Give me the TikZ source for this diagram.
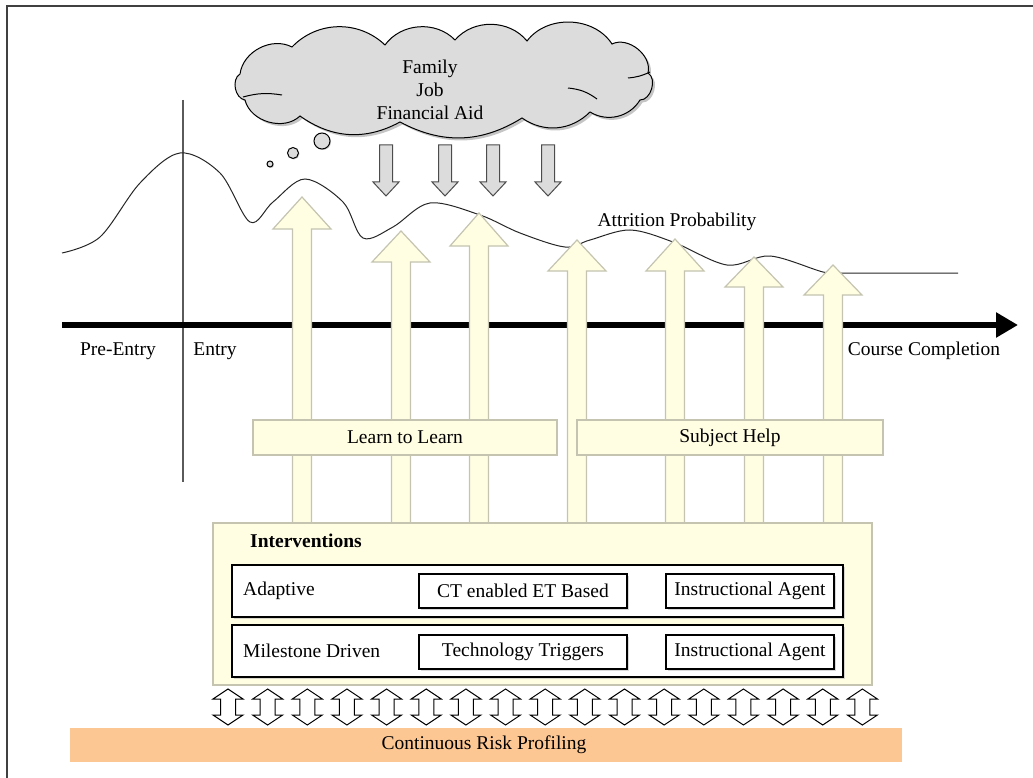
\documentclass[tikz,border=0pt]{standalone}
\usepackage{fontspec}
\setmainfont{Liberation Serif}
\usetikzlibrary{shadows,arrows.meta}
\definecolor{ylw}{HTML}{FFFDE2}
\definecolor{ylwedge}{HTML}{C4C4B0}
\definecolor{cloudgray}{HTML}{DCDCDC}
\definecolor{orangebar}{HTML}{FDC794}
\definecolor{vline}{HTML}{5A5A5A}
\begin{document}
\begin{tikzpicture}[x=1pt,y=-1pt,
  txt/.style={font=\fontsize{19.5}{23}\selectfont, inner sep=0pt},
  upar/.style={fill=ylw, draw=ylwedge, line width=1.2pt, line join=miter},
  downar/.style={fill=cloudgray, draw=black!70, line width=1pt},
  dblar/.style={fill=white, draw=black, line width=1pt},
  bar/.style={fill=ylw, draw=ylwedge, line width=1.2pt, drop shadow={shadow xshift=1pt, shadow yshift=-1pt, fill=black!15}},
  rowbox/.style={fill=white, draw=black, line width=1.2pt, drop shadow={shadow xshift=1.5pt, shadow yshift=-1.5pt, fill=black!30}},
  bubble/.style={fill=cloudgray, draw=black, line width=1pt, drop shadow={shadow xshift=1pt, shadow yshift=-1pt, fill=black!40}},
  cloudstyle/.style={fill=cloudgray, draw=black, line width=1pt, drop shadow={shadow xshift=2.5pt, shadow yshift=-2.5pt, fill=black!45}},
]
\useasboundingbox (0,0) rectangle (1033,778);
% frame
\draw[line width=1.5pt, black!75] (7,778) -- (7,6) -- (1033,6);

% cloud
\path[cloudstyle] (240,74) to[bend left=55] (292,47) to[bend left=45] (385,45)
  to[bend left=50] (455,40) to[bend left=50] (527,41) to[bend left=55] (612,44)
  to[bend left=65] (648,73) to[bend left=75] (640,100) to[bend left=45] (590,112)
  to[bend left=40] (522,118) to[bend left=30] (400,122) to[bend left=32] (300,116)
  to[bend left=60] (245,100) to[bend left=70] cycle;
\draw[line width=1pt] (243,97) to[bend left=12] (282,95);
\draw[line width=1pt] (568,88) to[bend left=15] (597,99);
\draw[line width=1pt] (628,78) to[bend right=10] (650,72);
\node[txt, align=center] (stress) at (430,90) {Family\\Job\\Financial Aid};
% thought bubbles
\draw[bubble] (322,141) circle (8);
\draw[bubble] (293,153) circle (5.5);
\draw[bubble] (270,164) circle (3);

% gray down arrows
\foreach \cx in {386,445,493,548}{
  \draw[downar] (\cx-6.5,145) -- (\cx+6.5,145) -- (\cx+6.5,182) -- (\cx+13,182)
     -- (\cx,196) -- (\cx-13,182) -- (\cx-6.5,182) -- cycle;
}

% vertical entry line
\draw[vline, line width=2pt] (183,100) -- (183,482);

% attrition curve
\draw[line width=1pt, black!85] plot[smooth, tension=0.55] coordinates {
 (62,253) (100,237) (140,183) (180,153) (220,173) (250,222) (273,202) (305,179)
 (343,202) (363,238) (393,227) (430,203) (480,215) (520,233) (565,247) (590,240)
 (630,230) (673,242) (727,265) (770,256) (823,272) (842,273)} -- (958,273);

% timeline
\coordinate (tl0) at (62,325);
\coordinate (tl1) at (1018,325);
\draw[line width=6pt, -{Triangle[length=22pt,width=24pt]}] (tl0) -- (tl1);

\node[txt] (pre) at (118,351) {Pre-Entry};
\node[txt] (entry) at (215,351) {Entry};
\node[txt] (cc) at (924,351) {Course Completion};
\node[txt] (attr) at (677,222) {Attrition Probability};

% yellow up arrows
\foreach \cx/\tip/\base in {302/197/229, 401/231/262, 479/213/246, 577/240/271, 675/239/271, 754/257/287, 833/265/295}{
  \draw[upar] (\cx-9.5,523) -- (\cx-9.5,\base) -- (\cx-29,\base) -- (\cx,\tip)
     -- (\cx+29,\base) -- (\cx+9.5,\base) -- (\cx+9.5,523);
}

% learn / subject bars
\node[bar, minimum width=304pt, minimum height=35pt, txt] (learn) at (405,437.5) {Learn to Learn};
\node[bar, minimum width=306pt, minimum height=35pt, txt] (subject) at (730,437.5) {Subject Help};

% interventions box
\draw[fill=ylw, draw=ylwedge, line width=1.5pt] (213,523) rectangle (872,685);
\node[txt, anchor=west, font=\fontsize{19.5}{23}\selectfont\bfseries] (interv) at (250,541) {Interventions};

\node[rowbox, minimum width=611pt, minimum height=52pt, inner sep=0pt] (row1) at (537.5,591) {};
\node[rowbox, minimum width=611pt, minimum height=52pt, inner sep=0pt] (row2) at (537.5,651) {};

\node[txt, anchor=west] (adaptive) at (243,591) {Adaptive};
\node[txt, anchor=west] (milestone) at (243,651) {Milestone Driven};

\node[rowbox, txt, minimum width=208pt, minimum height=34pt] (ct) at (523,591) {CT enabled ET Based};
\node[rowbox, txt, minimum width=168pt, minimum height=34pt] (ia1) at (750,591) {Instructional Agent};
\node[rowbox, txt, minimum width=208pt, minimum height=34pt] (tt) at (523,652) {Technology Triggers};
\node[rowbox, txt, minimum width=168pt, minimum height=34pt] (ia2) at (750,652) {Instructional Agent};

% double arrows
\foreach \i in {0,...,16}{
  \pgfmathsetmacro{\cx}{228+39.65*\i}
  \draw[dblar] (\cx,689) -- (\cx+15,699) -- (\cx+7.5,699) -- (\cx+7.5,715) -- (\cx+15,715)
    -- (\cx,725) -- (\cx-15,715) -- (\cx-7.5,715) -- (\cx-7.5,699) -- (\cx-15,699) -- cycle;
}

% risk profiling bar
\node[fill=orangebar, minimum width=832pt, minimum height=34pt, txt] (risk) at (486,745) {};
\node[txt] (risktxt) at (484,745) {Continuous Risk Profiling};
\end{tikzpicture}
\end{document}
